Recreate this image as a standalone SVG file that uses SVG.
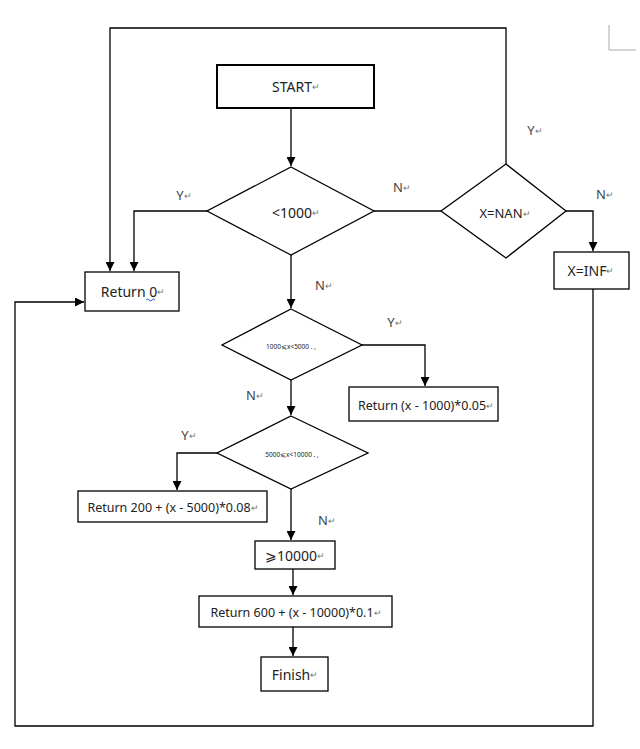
<svg xmlns="http://www.w3.org/2000/svg" width="640" height="749" viewBox="0 0 640 749">
<style>
.box{fill:#fff;stroke:#000;stroke-width:1.3}
.ln{fill:none;stroke:#000;stroke-width:1.3}
.t{font-family:"Noto Sans","Liberation Sans",sans-serif;font-size:14px;fill:#222;text-anchor:middle;dominant-baseline:central}
.s{font-family:"Noto Sans","Liberation Sans",sans-serif;font-size:6.5px;fill:#222;text-anchor:middle;dominant-baseline:central}
.pm{fill:#777;font-size:9px}
.lab{font-family:"Noto Sans","Liberation Sans",sans-serif;font-size:13px;fill:#444;text-anchor:middle;dominant-baseline:central}
</style>
<defs>
<marker id="ar" viewBox="0 0 10 10" refX="10" refY="5" markerWidth="9" markerHeight="9" markerUnits="userSpaceOnUse" orient="auto">
<path d="M0,0 L10,5 L0,10 z" fill="#000"/>
</marker>
</defs>
<rect width="640" height="749" fill="#fff"/>
<path d="M609,25 V50 H636" fill="none" stroke="#aaa" stroke-width="1"/>
<g id="connectors">
<path class="ln" d="M506,164 V28 H110 V271" marker-end="url(#ar)"/>
<path class="ln" d="M291,108 V166" marker-end="url(#ar)"/>
<path class="ln" d="M207,211 H134 V271" marker-end="url(#ar)"/>
<path class="ln" d="M374,211 H441"/>
<path class="ln" d="M566,211 H593 V251" marker-end="url(#ar)"/>
<path class="ln" d="M593,289 V726 H15 V302 H84" marker-end="url(#ar)"/>
<path class="ln" d="M291,255 V308" marker-end="url(#ar)"/>
<path class="ln" d="M362,345 H425 V386" marker-end="url(#ar)"/>
<path class="ln" d="M291,380 V415" marker-end="url(#ar)"/>
<path class="ln" d="M217,453 H177 V490" marker-end="url(#ar)"/>
<path class="ln" d="M291,489 V540" marker-end="url(#ar)"/>
<path class="ln" d="M293,569 V595" marker-end="url(#ar)"/>
<path class="ln" d="M293,627 V656" marker-end="url(#ar)"/>
</g>
<g id="labels">
<text class="lab" x="184" y="195">Y<tspan class="pm">↵</tspan></text>
<text class="lab" x="402" y="187">N<tspan class="pm">↵</tspan></text>
<text class="lab" x="535" y="130">Y<tspan class="pm">↵</tspan></text>
<text class="lab" x="605" y="194">N<tspan class="pm">↵</tspan></text>
<text class="lab" x="324" y="285">N<tspan class="pm">↵</tspan></text>
<text class="lab" x="395" y="322">Y<tspan class="pm">↵</tspan></text>
<text class="lab" x="255" y="395">N<tspan class="pm">↵</tspan></text>
<text class="lab" x="189" y="435">Y<tspan class="pm">↵</tspan></text>
<text class="lab" x="327" y="520">N<tspan class="pm">↵</tspan></text>
</g>
<g id="start">
<rect class="box" x="217" y="65" width="157" height="43" style="stroke-width:2"/>
<text class="t" x="296" y="86">START<tspan class="pm">↵</tspan></text>
</g>
<g id="lt1000">
<polygon class="box" points="291,167 374,211 291,255 207,211"/>
<text class="t" x="296" y="212">&lt;1000<tspan class="pm">↵</tspan></text>
</g>
<g id="nan">
<polygon class="box" points="506,164 566,211 506,258 441,211"/>
<text class="t" x="505" y="213" style="font-size:13px">X=NAN<tspan class="pm">↵</tspan></text>
</g>
<g id="inf">
<rect class="box" x="554" y="252" width="75" height="37"/>
<text class="t" x="591" y="270">X=INF<tspan class="pm">↵</tspan></text>
</g>
<g id="ret0">
<rect class="box" x="85" y="272" width="94" height="39"/>
<text class="t" x="133" y="291">Return 0<tspan class="pm">↵</tspan></text>
<path d="M146,300 q1.5,-2 3,0 t3,0 t3,0" fill="none" stroke="#2a55d8" stroke-width="1"/>
</g>
<g id="d2">
<polygon class="box" points="291,309 362,345 291,380 222,345"/>
<text class="s" x="291" y="346">1000⩽x&lt;5000 . ,</text>
</g>
<g id="r2">
<rect class="box" x="349" y="387" width="149" height="34"/>
<text class="t" x="426" y="405" style="font-size:12.5px">Return (x - 1000)*0.05<tspan class="pm">↵</tspan></text>
</g>
<g id="d3">
<polygon class="box" points="291,416 368,453 291,489 217,453"/>
<text class="s" x="292" y="454">5000⩽x&lt;10000 . ,</text>
</g>
<g id="r3">
<rect class="box" x="78" y="491" width="189" height="31"/>
<text class="t" x="173" y="507" style="font-size:12.5px">Return 200 + (x - 5000)*0.08<tspan class="pm">↵</tspan></text>
</g>
<g id="ge">
<rect class="box" x="255" y="541" width="80" height="28"/>
<text class="t" x="295" y="555">⩾10000<tspan class="pm">↵</tspan></text>
</g>
<g id="r4">
<rect class="box" x="199" y="596" width="193" height="31"/>
<text class="t" x="296" y="612" style="font-size:12.5px">Return 600 + (x - 10000)*0.1<tspan class="pm">↵</tspan></text>
</g>
<g id="finish">
<rect class="box" x="261" y="657" width="67" height="34"/>
<text class="t" x="295" y="674">Finish<tspan class="pm">↵</tspan></text>
</g>
</svg>
